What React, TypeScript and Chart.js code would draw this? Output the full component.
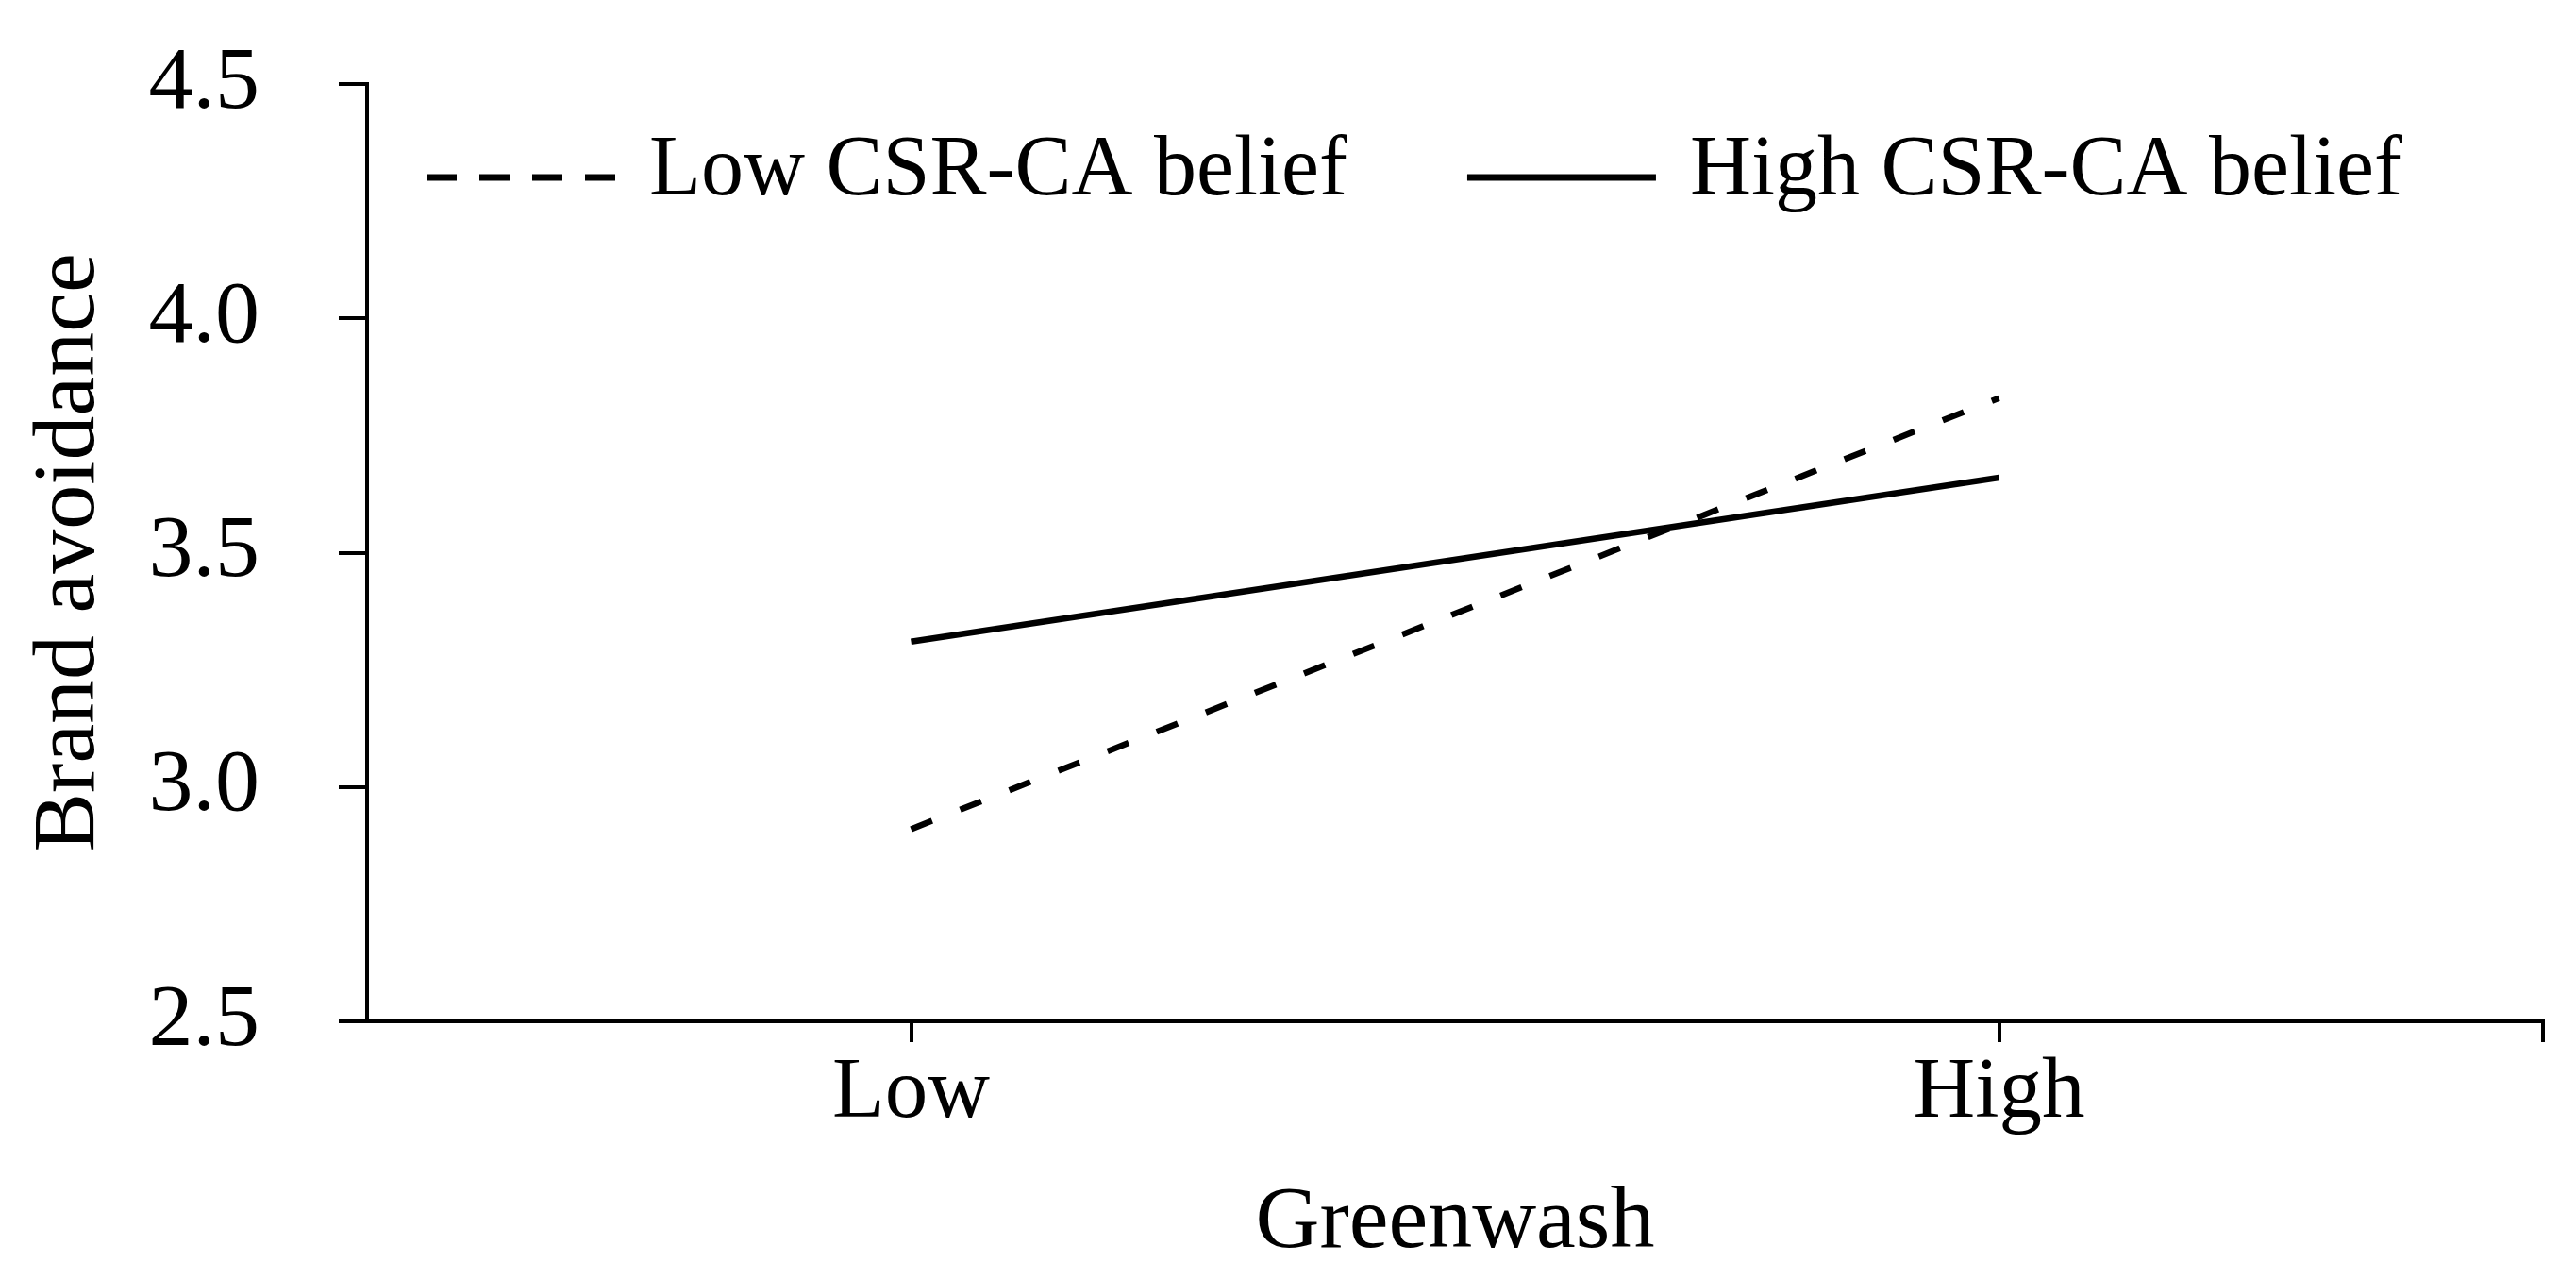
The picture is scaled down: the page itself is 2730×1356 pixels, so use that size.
import React, { useEffect, useRef } from 'react';
import { Chart, registerables } from 'chart.js';

Chart.register(...registerables);

const categories = ['Low', 'High'];
const lowBeliefValues = [2.91, 3.83];
const highBeliefValues = [3.31, 3.66];
const seriesLabels = ['Low CSR-CA belief', 'High CSR-CA belief'];
const yTickValues = [2.5, 3.0, 3.5, 4.0, 4.5];
const xAxisTitle = 'Greenwash';
const yAxisTitle = 'Brand avoidance';

const FONT = '"Liberation Serif", "Times New Roman", serif';

const catPos = (i: number) => 2 * i + 1;

const legendPlugin = {
  id: 'innerLegend',
  afterDraw(chart: any) {
    const ctx = chart.ctx;
    const { left, top } = chart.chartArea;
    ctx.save();
    ctx.font = `90px ${FONT}`;
    ctx.textBaseline = 'middle';
    ctx.textAlign = 'left';
    let x = left + 63;
    const yLine = top + 99;
    const yText = top + 93;
    chart.data.datasets.forEach((ds: any, i: number) => {
      ctx.beginPath();
      ctx.setLineDash(i === 0 ? [32, 24] : []);
      ctx.lineWidth = 7;
      ctx.strokeStyle = '#000';
      ctx.moveTo(x, yLine);
      ctx.lineTo(x + 200, yLine);
      ctx.stroke();
      ctx.setLineDash([]);
      ctx.fillStyle = '#000';
      ctx.fillText(ds.label, x + 236, yText);
      x += 236 + ctx.measureText(ds.label).width + 127;
    });
    ctx.restore();
  },
};

export default function App() {
  const ref = useRef<HTMLCanvasElement | null>(null);
  useEffect(() => {
    if (!ref.current) return;
    const chart = new Chart(ref.current, {
      type: 'line',
      data: {
        datasets: [
          {
            label: seriesLabels[0],
            data: lowBeliefValues.map((v, i) => ({ x: catPos(i), y: v })),
            borderColor: '#000',
            backgroundColor: '#000',
            borderWidth: 6.5,
            borderDash: [24, 32],
            pointRadius: 0,
            tension: 0,
          },
          {
            label: seriesLabels[1],
            data: highBeliefValues.map((v, i) => ({ x: catPos(i), y: v })),
            borderColor: '#000',
            backgroundColor: '#000',
            borderWidth: 6.5,
            pointRadius: 0,
            tension: 0,
          },
        ],
      },
      options: {
        animation: false,
        responsive: true,
        maintainAspectRatio: false,
        layout: { padding: { left: 0, right: 35, top: 89, bottom: 0 } },
        plugins: { legend: { display: false }, tooltip: { enabled: false } },
        scales: {
          x: {
            type: 'linear',
            min: 0,
            max: 2 * categories.length,
            afterBuildTicks: (scale: any) => {
              scale.ticks = [...categories.map((_, i) => ({ value: catPos(i) })), { value: 2 * categories.length }];
            },
            afterFit: (scale: any) => {
              scale.height = 274;
              scale.paddingLeft = 0;
              scale.paddingRight = 0;
            },
            ticks: {
              autoSkip: false,
              maxRotation: 0,
              color: '#000',
              padding: 0,
              font: { family: FONT, size: 91 },
              callback: (v: any) => {
                const idx = (Number(v) - 1) / 2;
                return Number.isInteger(idx) && categories[idx] ? categories[idx] : '';
              },
            },
            grid: { drawOnChartArea: false, color: '#000', lineWidth: 4, tickLength: 22 },
            border: { display: true, color: '#000', width: 4 },
            title: {
              display: true,
              text: xAxisTitle,
              color: '#000',
              font: { family: FONT, size: 94 },
              padding: { top: 0, bottom: 3 },
            },
          },
          y: {
            type: 'linear',
            min: yTickValues[0],
            max: yTickValues[yTickValues.length - 1],
            afterBuildTicks: (scale: any) => {
              scale.ticks = yTickValues.map((v) => ({ value: v }));
            },
            afterFit: (scale: any) => {
              scale.width = 389;
              scale.paddingTop = 0;
              scale.paddingBottom = 0;
            },
            ticks: {
              color: '#000',
              padding: 84,
              font: { family: FONT, size: 94 },
              callback: (v: any) => Number(v).toFixed(1),
            },
            grid: { drawOnChartArea: false, color: '#000', lineWidth: 4, tickLength: 30 },
            border: { display: true, color: '#000', width: 4 },
            title: {
              display: true,
              text: yAxisTitle,
              color: '#000',
              font: { family: FONT, size: 94 },
              padding: { top: 18, bottom: 0 },
            },
          },
        },
      },
      plugins: [legendPlugin],
    } as any);
    return () => chart.destroy();
  }, []);
  return (
    <div style={{ position: 'fixed', left: 0, top: 0, width: 2730, height: 1356, background: '#fff' }}>
      <canvas ref={ref} />
    </div>
  );
}
